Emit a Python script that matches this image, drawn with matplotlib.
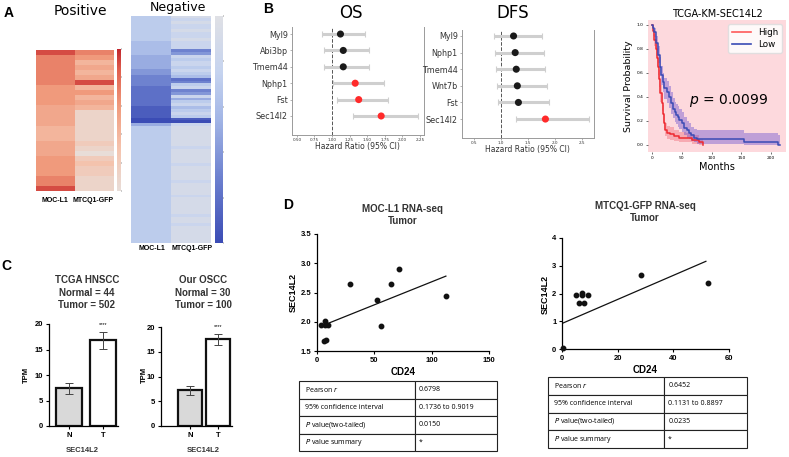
import numpy as np
import matplotlib
matplotlib.use('Agg')
import matplotlib.pyplot as plt
from matplotlib.colors import LinearSegmentedColormap
from matplotlib.lines import Line2D

# ---------------- data ----------------
# Panel A heatmaps (intensity scale 0..10)
pos_moc = [9, 7, 7, 7, 7, 7, 7, 6, 6, 6, 6, 5, 5, 5, 5, 4, 4, 4, 5, 5, 5, 6, 6, 6, 6, 7, 7, 9]
pos_mtc = [7, 6, 4, 5, 4, 5, 9, 4, 6, 4, 5, 4, 1, 1, 1, 1, 1, 1, 2, 1, 0, 2, 3, 2, 2, 1, 1, 1]
neg_moc = [3, 3, 3, 3, 3, 3, 3, 3, 3, 4,
           4, 4, 4, 4, 5, 5, 5, 5, 5, 6,
           6, 7, 7, 7, 7, 8, 8, 8, 8, 8,
           8, 8, 9, 9, 9, 9, 10, 10, 5, 3,
           3, 3, 3, 3, 3, 3, 3, 3, 3, 3,
           3, 3, 3, 3, 3, 3, 3, 3, 3, 3,
           3, 3, 3, 3, 3, 3, 3, 3, 3, 3,
           3, 3, 3, 3, 3, 3, 3, 3, 3, 3]
neg_mtc = [1, 2, 1, 2, 2, 1, 2, 2, 1, 2,
           2, 2, 7, 6, 2, 3, 2, 2, 3, 2,
           3, 4, 8, 7, 3, 2, 7, 6, 2, 5,
           3, 2, 4, 3, 2, 3, 9, 10, 2, 1,
           1, 1, 1, 1, 1, 1, 2, 1, 1, 1,
           1, 1, 2, 1, 1, 1, 1, 1, 2, 1,
           1, 1, 1, 2, 1, 1, 1, 1, 1, 1,
           2, 1, 1, 2, 1, 1, 1, 1, 1, 1]
heat_cols = ['MOC-L1', 'MTCQ1-GFP']

# Panel B forest plots
os_genes = ['Myl9', 'Abi3bp', 'Tmem44', 'Nphp1', 'Fst', 'Sec14l2']
os_hr = [1.12, 1.16, 1.16, 1.33, 1.38, 1.70]
os_lo = [0.86, 0.89, 0.89, 1.01, 1.07, 1.30]
os_hi = [1.47, 1.52, 1.53, 1.74, 1.80, 2.23]
os_sig = [False, False, False, True, True, True]
dfs_genes = ['Myl9', 'Nphp1', 'Tmem44', 'Wnt7b', 'Fst', 'Sec14l2']
dfs_hr = [1.23, 1.26, 1.28, 1.30, 1.32, 1.82]
dfs_lo = [0.87, 0.89, 0.90, 0.92, 0.94, 1.27]
dfs_hi = [1.75, 1.79, 1.82, 1.85, 1.88, 2.62]
dfs_sig = [False, False, False, False, False, True]

# KM curves
high_t = [0, 2, 4, 6, 8, 10, 12, 14, 16, 18, 20, 22, 25, 30, 37, 45, 57, 68, 79, 86]
high_s = [1.0, 0.95, 0.87, 0.80, 0.72, 0.65, 0.55, 0.43, 0.35, 0.26, 0.18, 0.12, 0.10, 0.09, 0.07, 0.06, 0.06, 0.04, 0.02, 0.0]
high_lo = [1.0, 0.91, 0.82, 0.74, 0.66, 0.58, 0.48, 0.36, 0.28, 0.19, 0.12, 0.07, 0.05, 0.04, 0.03, 0.02, 0.02, 0.01, 0.0, 0.0]
high_hi = [1.0, 0.98, 0.92, 0.86, 0.79, 0.72, 0.62, 0.50, 0.42, 0.33, 0.25, 0.18, 0.16, 0.15, 0.12, 0.11, 0.10, 0.08, 0.05, 0.02]
low_t = [0, 2, 4, 7, 10, 13, 15, 18, 21, 25, 29, 32, 35, 38, 40, 43, 46, 50, 54, 58, 62, 66, 71, 75, 154, 212, 215]
low_s = [1.0, 0.97, 0.94, 0.85, 0.75, 0.65, 0.58, 0.52, 0.47, 0.44, 0.40, 0.35, 0.30, 0.27, 0.25, 0.23, 0.21, 0.18, 0.14, 0.12, 0.10, 0.08, 0.06, 0.05, 0.02, 0.0, 0.0]
low_lo = [1.0, 0.94, 0.90, 0.79, 0.68, 0.57, 0.50, 0.44, 0.38, 0.35, 0.31, 0.26, 0.22, 0.19, 0.17, 0.15, 0.13, 0.11, 0.08, 0.06, 0.05, 0.03, 0.02, 0.01, 0.0, 0.0, 0.0]
low_hi = [1.0, 0.99, 0.97, 0.91, 0.82, 0.73, 0.66, 0.60, 0.56, 0.53, 0.49, 0.44, 0.39, 0.36, 0.34, 0.32, 0.30, 0.27, 0.23, 0.20, 0.18, 0.15, 0.13, 0.12, 0.10, 0.08, 0.08]

# Panel C bars
bar_cats = ['N', 'T']
tcga_mean = [7.4, 16.8]
tcga_err = [1.05, 1.7]
oscc_mean = [7.2, 17.5]
oscc_err = [0.95, 1.1]

# Panel D scatter
moc_cd24 = [28.4, 52.1, 64.3, 71.5, 112.4, 56.2, 3.8, 6.7, 9.3, 7.2, 5.8, 8.1]
moc_sec = [2.64, 2.38, 2.65, 2.90, 2.44, 1.93, 1.95, 1.95, 1.94, 2.02, 1.67, 1.68]
moc_fit_x = [4.3, 112.4]
moc_fit_y = [1.93, 2.78]
mtc_cd24 = [5.1, 7.2, 7.2, 9.5, 6.0, 7.8, 28.3, 52.3, 0.4]
mtc_sec = [1.96, 2.02, 1.94, 1.94, 1.66, 1.66, 2.66, 2.38, 0.02]
mtc_fit_x = [0.0, 51.7]
mtc_fit_y = [0.92, 3.16]
moc_table = [['Pearson $r$', '0.6798'], ['95% confidence interval', '0.1736 to 0.9019'],
             ['$P$ value(two-tailed)', '0.0150'], ['$P$ value summary', '*']]
mtc_table = [['Pearson $r$', '0.6452'], ['95% confidence interval', '0.1131 to 0.8897'],
             ['$P$ value(two-tailed)', '0.0235'], ['$P$ value summary', '*']]

# ---------------- figure ----------------
W, H = 789, 457
fig = plt.figure(figsize=(W / 100, H / 100), dpi=100)
fig.patch.set_facecolor('white')
ARIAL = 'Liberation Sans'


def add_ax(x0, y0, x1, y1):
    return fig.add_axes([x0 / W, 1 - y1 / H, (x1 - x0) / W, (y1 - y0) / H])


def ftext(x, y, s, **kw):
    kw.setdefault('ha', 'center')
    kw.setdefault('va', 'center')
    fig.text(x / W, 1 - y / H, s, **kw)


# panel letters
for (lx, ly, l) in [(9, 13, 'A'), (268, 9, 'B'), (6, 266, 'C'), (288, 205, 'D')]:
    ftext(lx, ly, l, fontsize=10, fontweight='bold', family=ARIAL)

# ---------------- Panel A ----------------
reds = LinearSegmentedColormap.from_list(
    'reds_soft', [(0.0, '#e8ddd8'), (0.3, '#f5c3ad'), (0.6, '#f09a7c'),
                  (0.85, '#e0604f'), (1.0, '#c1262d')])
blues = LinearSegmentedColormap.from_list(
    'blues_soft', [(0.0, '#3b4cb5'), (0.3, '#6f83d0'), (0.55, '#a3b6e6'),
                   (0.75, '#c5d3ef'), (1.0, '#dfe0e5')])

axp = add_ax(36, 50, 113, 191)
imp = axp.imshow(np.column_stack([pos_moc, pos_mtc]), cmap=reds, vmin=0, vmax=10,
                 aspect='auto', interpolation='nearest')
axp.set_xticks([])
axp.set_yticks([])
for s in axp.spines.values():
    s.set_visible(False)
caxp = add_ax(117, 49, 121, 191)
cbp = fig.colorbar(imp, cax=caxp)
cbp.outline.set_visible(False)
caxp.tick_params(labelright=False, length=1, width=0.3)

axn = add_ax(131, 16, 211, 243)
imn = axn.imshow(-np.column_stack([neg_moc, neg_mtc]), cmap=blues, vmin=-10, vmax=0,
                 aspect='auto', interpolation='nearest')
axn.set_xticks([])
axn.set_yticks([])
for s in axn.spines.values():
    s.set_visible(False)
caxn = add_ax(215, 16, 223, 243)
cbn = fig.colorbar(imn, cax=caxn)
cbn.outline.set_visible(False)
caxn.tick_params(labelright=False, length=1, width=0.3)

ftext(80, 11, 'Positive', fontsize=10)
ftext(178, 7, 'Negative', fontsize=9)
for cx, lab in zip([55, 93], heat_cols):
    ftext(cx, 200, lab, fontsize=5, fontweight='bold', family=ARIAL)
for cx, lab in zip([152, 192], heat_cols):
    ftext(cx, 248, lab, fontsize=5, fontweight='bold', family=ARIAL)

# ---------------- Panel B: forest ----------------


def forest(ax, genes, hr, lo, hi, sig, xlim, ylim, xticks, xticklabels):
    y = np.arange(len(genes))
    hr = np.array(hr)
    lo = np.array(lo)
    hi = np.array(hi)
    ax.errorbar(hr, y, xerr=[hr - lo, hi - hr], fmt='none', ecolor='#cfcfcf',
                elinewidth=2.2, capsize=2, capthick=0.8, zorder=1)
    cols = ['#ff2a2a' if s else '#1a1a1a' for s in sig]
    ax.scatter(hr, y, c=cols, s=26, zorder=3, linewidths=0)
    ax.axvline(1.0, ls='--', color='#555555', lw=0.7, zorder=0)
    ax.set_xlim(*xlim)
    ax.set_ylim(*ylim)
    ax.set_yticks(y)
    ax.set_yticklabels(genes, fontsize=5.8, color='#333333')
    ax.set_xticks(xticks)
    ax.set_xticklabels(xticklabels, fontsize=3, color='#333333')
    ax.tick_params(axis='both', length=1.5, width=0.4, pad=1.5, color='#777777')
    ax.tick_params(axis='x', pad=1)
    ax.spines['top'].set_visible(False)
    for k in ['left', 'right', 'bottom']:
        ax.spines[k].set_color('#9a9a9a')
        ax.spines[k].set_linewidth(0.7)


axos = add_ax(292, 27, 424, 135)
forest(axos, os_genes, os_hr, os_lo, os_hi, os_sig, (0.43, 2.31), (6.16, -0.43),
       [0.5, 0.75, 1.0, 1.25, 1.5, 1.75, 2.0, 2.25],
       ['0.50', '0.75', '1.00', '1.25', '1.50', '1.75', '2.00', '2.25'])
ftext(351, 13, 'OS', fontsize=12)
ftext(357, 147, 'Hazard Ratio (95% CI)', fontsize=5.5, color='#333333')

axdfs = add_ax(462, 30, 594, 138)
forest(axdfs, dfs_genes, dfs_hr, dfs_lo, dfs_hi, dfs_sig, (0.275, 2.72), (6.14, -0.36),
       [0.5, 1.0, 1.5, 2.0, 2.5], ['0.5', '1.0', '1.5', '2.0', '2.5'])
ftext(513, 13, 'DFS', fontsize=12)
ftext(527, 150, 'Hazard Ratio (95% CI)', fontsize=5.5, color='#333333')

# ---------------- KM ----------------
axkm = add_ax(648, 20, 786, 152)
axkm.set_facecolor('#fdd9dd')
axkm.fill_between(high_t, high_lo, high_hi, step='post', color='#f27c88', alpha=0.5, lw=0)
axkm.fill_between(low_t, low_lo, low_hi, step='post', color='#6a4fd0', alpha=0.42, lw=0)
axkm.step(high_t, high_s, where='post', color='#ee2a30', lw=1.1)
axkm.step(low_t, low_s, where='post', color='#3a4bb5', lw=1.1)
axkm.set_xlim(-6.7, 225)
axkm.set_ylim(-0.06, 1.04)
axkm.set_xticks([0, 50, 100, 150, 200])
axkm.set_yticks([0, 0.2, 0.4, 0.6, 0.8, 1.0])
axkm.set_yticklabels(['0.0', '0.2', '0.4', '0.6', '0.8', '1.0'])
axkm.tick_params(labelsize=3.2, length=1.5, width=0.4, pad=1.5)
for s in axkm.spines.values():
    s.set_visible(False)
axkm.set_title('TCGA-KM-SEC14L2', fontsize=7, pad=2.5)
axkm.set_ylabel('Survival Probability', fontsize=6.8, labelpad=3)
axkm.set_xlabel('Months', fontsize=7, labelpad=1)
axkm.text(62, 0.34, '$p$ = 0.0099', fontsize=10)
leg = axkm.legend(handles=[Line2D([], [], color='#ff5a5a', lw=1.2),
                           Line2D([], [], color='#3a4bb5', lw=1.2)],
                  labels=['High', 'Low'], loc='upper right', fontsize=6.3,
                  handlelength=2.2, borderpad=0.4, labelspacing=0.4, framealpha=0.85,
                  fancybox=True, edgecolor='#dddddd')

# ---------------- Panel C ----------------


def barpanel(ax, means, errs, xlim, width, title, title_x, ylab_x, xl_x):
    ax.bar([0, 1], means, width=width, color=['#d9d9d9', 'white'], edgecolor='#111111',
           linewidth=1.6, zorder=2)
    ax.errorbar([0, 1], means, yerr=errs, fmt='none', ecolor='#444444', elinewidth=0.7,
                capsize=3, capthick=0.7, zorder=3)
    ax.text(1, means[1] + errs[1] + 0.9, '****', ha='center', va='bottom', fontsize=4,
            family=ARIAL)
    ax.set_xlim(*xlim)
    ax.set_ylim(0, 20)
    ax.set_yticks([0, 5, 10, 15, 20])
    ax.set_xticks([0, 1])
    ax.set_xticklabels(bar_cats)
    for lab in ax.get_xticklabels() + ax.get_yticklabels():
        lab.set_fontweight('bold')
        lab.set_family(ARIAL)
    ax.tick_params(labelsize=5.5, length=2.5, width=0.8, pad=1.5)
    ax.spines['top'].set_visible(False)
    ax.spines['right'].set_visible(False)
    ax.spines['left'].set_linewidth(0.9)
    ax.spines['bottom'].set_linewidth(0.9)
    for i, line in enumerate(title):
        ftext(title_x, 280 + 12.5 * i, line, fontsize=7, fontweight='bold', family=ARIAL,
              color='#333333')
    ftext(ylab_x, 375, 'TPM', fontsize=5.5, fontweight='bold', family=ARIAL, rotation=90)
    ftext(xl_x, 451, 'SEC14L2', fontsize=5.5, fontweight='bold', family=ARIAL,
          color='#333333')


axc1 = add_ax(49, 324, 118, 426)
barpanel(axc1, tcga_mean, tcga_err, (-0.6, 1.45), 0.78,
         ['TCGA HNSCC', 'Normal = 44', 'Tumor = 502'], 87, 26, 82)
axc2 = add_ax(161, 327, 232, 426)
barpanel(axc2, oscc_mean, oscc_err, (-1.04, 1.5), 0.85,
         ['Our OSCC', 'Normal = 30', 'Tumor = 100'], 203, 144, 203)

# ---------------- Panel D ----------------


def scatpanel(ax, x, y, fx, fy, xlim, ylim, xticks, yticks, ytl):
    ax.plot(x, y, 'o', color='#111111', ms=3.2, clip_on=False, zorder=3)
    ax.plot(fx, fy, '-', color='#111111', lw=0.9)
    ax.set_xlim(*xlim)
    ax.set_ylim(*ylim)
    ax.set_xticks(xticks)
    ax.set_yticks(yticks)
    ax.set_yticklabels(ytl)
    for lab in ax.get_xticklabels() + ax.get_yticklabels():
        lab.set_fontweight('bold')
        lab.set_family(ARIAL)
    ax.tick_params(labelsize=5.5, length=2.5, width=0.8, pad=1.5)
    ax.spines['top'].set_visible(False)
    ax.spines['right'].set_visible(False)
    ax.spines['left'].set_linewidth(0.9)
    ax.spines['bottom'].set_linewidth(0.9)


axd1 = add_ax(317, 234, 489, 351)
scatpanel(axd1, moc_cd24, moc_sec, moc_fit_x, moc_fit_y, (0, 150), (1.5, 3.5),
          [0, 50, 100, 150], [1.5, 2.0, 2.5, 3.0, 3.5], ['1.5', '2.0', '2.5', '3.0', '3.5'])
ftext(403, 209, 'MOC-L1 RNA-seq', fontsize=7, fontweight='bold', family=ARIAL, color='#333333')
ftext(403, 221, 'Tumor', fontsize=7, fontweight='bold', family=ARIAL, color='#333333')
ftext(293, 292, 'SEC14L2', fontsize=6.5, fontweight='bold', family=ARIAL, rotation=90)
ftext(403, 372, 'CD24', fontsize=7, fontweight='bold', family=ARIAL)

axd2 = add_ax(562, 238, 729, 349)
scatpanel(axd2, mtc_cd24, mtc_sec, mtc_fit_x, mtc_fit_y, (0, 60), (0, 4),
          [0, 20, 40, 60], [0, 1, 2, 3, 4], ['0', '1', '2', '3', '4'])
ftext(645, 206, 'MTCQ1-GFP RNA-seq', fontsize=7, fontweight='bold', family=ARIAL, color='#333333')
ftext(645, 218, 'Tumor', fontsize=7, fontweight='bold', family=ARIAL, color='#333333')
ftext(545, 294, 'SEC14L2', fontsize=6.5, fontweight='bold', family=ARIAL, rotation=90)
ftext(645, 370, 'CD24', fontsize=7, fontweight='bold', family=ARIAL)


def stat_table(x0, y0, x1, y1, split, rows):
    ax = add_ax(x0, y0, x1, y1)
    ax.axis('off')
    w0 = (split - x0) / (x1 - x0)
    tb = ax.table(cellText=rows, colWidths=[w0, 1 - w0], cellLoc='left', bbox=[0, 0, 1, 1])
    tb.auto_set_font_size(False)
    for (r, c), cell in tb.get_celld().items():
        cell.set_linewidth(0.8)
        cell.set_edgecolor('#222222')
        cell.get_text().set_fontsize(5)
        cell.get_text().set_family('Open Sans')
        cell.PAD = 0.05


stat_table(299, 381, 497, 451, 415, moc_table)
stat_table(548, 377, 747, 448, 664, mtc_table)

fig.savefig('out.png', dpi=100, facecolor='white')
